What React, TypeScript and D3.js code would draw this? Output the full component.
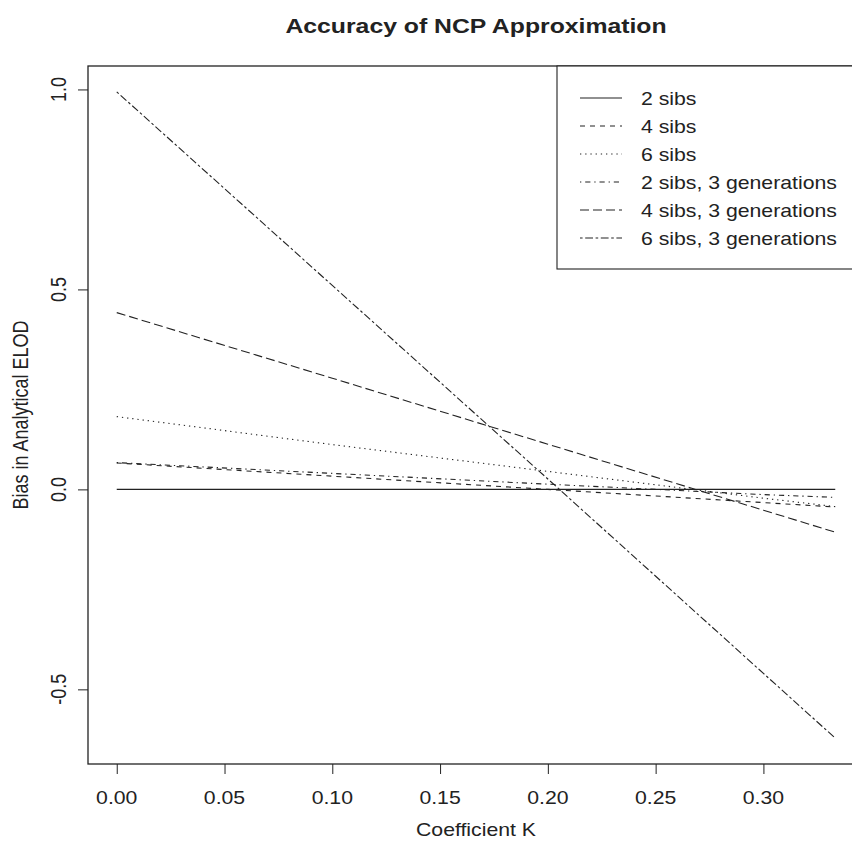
import React, { useEffect, useRef } from 'react';
import * as d3 from 'd3';

const coefficientK = [0, 0.1, 0.2, 0.3, 1 / 3];

// bias in analytical ELOD, one array per pedigree type
const twoSibs = [0, 0, 0, 0, 0];
const fourSibs = [0.066, 0.033, 0.0, -0.033, -0.044];
const sixSibs = [0.182, 0.112, 0.045, -0.022, -0.043];
const twoSibsThreeGen = [0.067, 0.04, 0.013, -0.013, -0.02];
const fourSibsThreeGen = [0.442, 0.278, 0.113, -0.052, -0.107];
const sixSibsThreeGen = [0.994, 0.51, 0.026, -0.46, -0.622];

const seriesNames = [
    '2 sibs',
    '4 sibs',
    '6 sibs',
    '2 sibs, 3 generations',
    '4 sibs, 3 generations',
    '6 sibs, 3 generations',
];
const seriesValues = [twoSibs, fourSibs, sixSibs, twoSibsThreeGen, fourSibsThreeGen, sixSibsThreeGen];
// R lty 1..6
const seriesDashes = ['none', '5,5', '1.3,3.9', '1.3,3.9,5.2,3.9', '9,4', '2.6,2.6,7.8,2.6'];

const xTicks = [0, 0.05, 0.1, 0.15, 0.2, 0.25, 0.3];
const yTicks = [-0.5, 0, 0.5, 1.0];

const width = 852;
const height = 841;
// plot box, right edge runs off the page like in the original
const box = { left: 88, right: 864, top: 66, bottom: 764 };
const font = "'Liberation Sans', Arial, Helvetica, sans-serif";
const ink = '#222';
// the original picture is stretched sideways, text included
const stretch = 1.18;

function App() {
    const svgRef = useRef<SVGSVGElement>(null);

    useEffect(() => {
        const svg = d3.select(svgRef.current);
        svg.selectAll('*').remove();

        // R style 4% padding on both axes
        const xMin = d3.min(coefficientK) as number;
        const xMax = d3.max(coefficientK) as number;
        const xPad = (xMax - xMin) * 0.04;
        const allValues = seriesValues.flat();
        const yMin = d3.min(allValues) as number;
        const yMax = d3.max(allValues) as number;
        const yPad = (yMax - yMin) * 0.04;

        const x = d3.scaleLinear().domain([xMin - xPad, xMax + xPad]).range([box.left, box.right]);
        const y = d3.scaleLinear().domain([yMin - yPad, yMax + yPad]).range([box.bottom, box.top]);

        const addText = (
            g: d3.Selection<any, any, any, any>,
            px: number,
            py: number,
            label: string,
            size: number,
            anchor: string,
            rotate = false,
        ) => g.append('text')
            .attr('transform', `translate(${px},${py}) scale(${stretch},1)${rotate ? ' rotate(-90)' : ''}`)
            .attr('text-anchor', anchor)
            .attr('font-family', font)
            .attr('font-size', size)
            .attr('fill', ink)
            .text(label);

        // title
        addText(svg, (box.left + box.right) / 2, 33, 'Accuracy of NCP Approximation', 21, 'middle')
            .attr('font-weight', 'bold');

        // x axis
        const xAxis = d3.axisBottom(x)
            .tickValues(xTicks)
            .tickSize(10)
            .tickFormat(() => '');
        const gx = svg.append('g')
            .attr('transform', `translate(0,${box.bottom})`)
            .call(xAxis);
        gx.select('.domain').remove();
        gx.selectAll('line').attr('stroke', ink);
        xTicks.forEach(t => {
            addText(svg, x(t), 804, t.toFixed(2), 18, 'middle');
        });

        // y axis, labels rotated like R las = 0
        const yAxis = d3.axisLeft(y)
            .tickValues(yTicks)
            .tickSize(10)
            .tickFormat(() => '');
        const gy = svg.append('g')
            .attr('transform', `translate(${box.left},0)`)
            .call(yAxis);
        gy.select('.domain').remove();
        gy.selectAll('line').attr('stroke', ink);
        yTicks.forEach(t => {
            addText(svg, 66, y(t), t.toFixed(1), 18, 'middle', true);
        });

        // axis titles
        addText(svg, (box.left + box.right) / 2, 836, 'Coefficient K', 18, 'middle');
        addText(svg, 28, (box.top + box.bottom) / 2, 'Bias in Analytical ELOD', 18, 'middle', true);

        // curves
        const line = d3.line<number>()
            .x((_, i) => x(coefficientK[i]))
            .y(d => y(d));
        svg.append('g')
            .selectAll('path')
            .data(seriesValues)
            .join('path')
            .attr('d', d => line(d))
            .attr('fill', 'none')
            .attr('stroke', ink)
            .attr('stroke-width', 1.1)
            .attr('stroke-dasharray', (_, i) => seriesDashes[i]);

        // box
        svg.append('rect')
            .attr('x', box.left)
            .attr('y', box.top)
            .attr('width', box.right - box.left)
            .attr('height', box.bottom - box.top)
            .attr('fill', 'none')
            .attr('stroke', ink)
            .attr('stroke-width', 1.3);

        // legend at top right
        const legend = { left: 557, top: box.top, bottom: 269, rowStart: 98, rowStep: 28 };
        svg.append('rect')
            .attr('x', legend.left)
            .attr('y', legend.top)
            .attr('width', box.right - legend.left)
            .attr('height', legend.bottom - legend.top)
            .attr('fill', 'white')
            .attr('stroke', ink)
            .attr('stroke-width', 1.1);
        const rows = svg.append('g');
        seriesNames.forEach((name, i) => {
            const rowY = legend.rowStart + i * legend.rowStep;
            rows.append('line')
                .attr('x1', 580)
                .attr('x2', 622)
                .attr('y1', rowY)
                .attr('y2', rowY)
                .attr('stroke', ink)
                .attr('stroke-width', 1.1)
                .attr('stroke-dasharray', seriesDashes[i]);
            addText(rows, 641, rowY + 6.5, name, 18, 'start');
        });
    }, []);

    return (
        <svg
            ref={svgRef}
            width={width}
            height={height}
            style={{ position: 'absolute', left: 0, top: 0, background: 'white' }}
        />
    );
}

export default App;
